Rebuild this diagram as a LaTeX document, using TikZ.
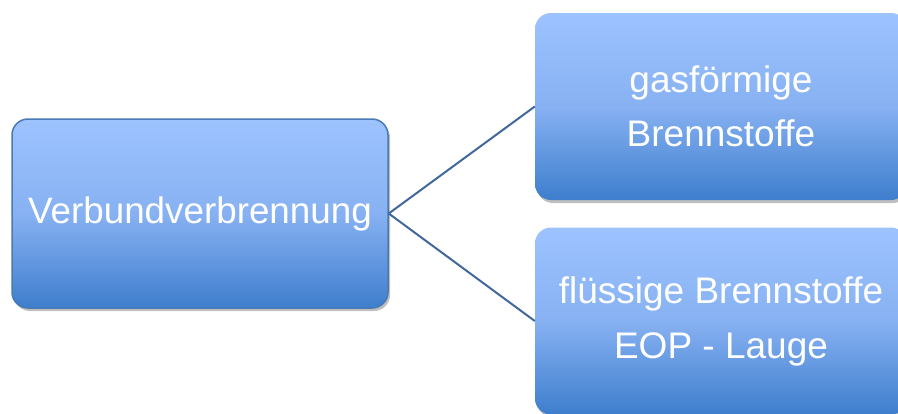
\documentclass[tikz,border=0pt]{standalone}
\usepackage{fontspec}
\setmainfont{Liberation Sans}
\usetikzlibrary{shadows}
\definecolor{boxtop}{RGB}{157,195,255}
\definecolor{boxmid}{RGB}{135,177,242}
\definecolor{boxbot}{RGB}{62,126,205}
\definecolor{boxline}{RGB}{74,122,182}
\definecolor{linkcol}{RGB}{64,104,155}
\tikzset{
  cbox/.style={rectangle, rounded corners=16pt, inner sep=0pt,
    top color=boxtop, bottom color=boxbot, middle color=boxmid,
    text=white, align=center,
    drop shadow={shadow xshift=2pt, shadow yshift=-3pt, opacity=0.25, fill=black}},
  link/.style={draw=linkcol, line width=2pt}
}
\begin{document}
\begin{tikzpicture}[x=1pt,y=-1pt]
\useasboundingbox (0,0) rectangle (898,413);
\clip (0,0) rectangle (898,413);
\fill[white] (0,0) rectangle (898,413);
\node[cbox, draw=boxline, line width=1.5pt, minimum width=376pt, minimum height=189pt,
  font=\fontsize{36.8pt}{54pt}\selectfont] (root) at (200,213.5) {Verbundverbrennung};
\node[cbox, minimum width=372pt, minimum height=187pt,
  font=\fontsize{37pt}{54pt}\selectfont] (gas) at (721,106.5) {gasförmige\\Brennstoffe};
\node[cbox, minimum width=372pt, minimum height=187pt,
  font=\fontsize{37pt}{55pt}\selectfont] (fl) at (721,321) {flüssige Brennstoffe\\EOP - Lauge};
\draw[link] (root.east) -- (gas.west);
\draw[link] (root.east) -- (fl.west);
\end{tikzpicture}
\end{document}
